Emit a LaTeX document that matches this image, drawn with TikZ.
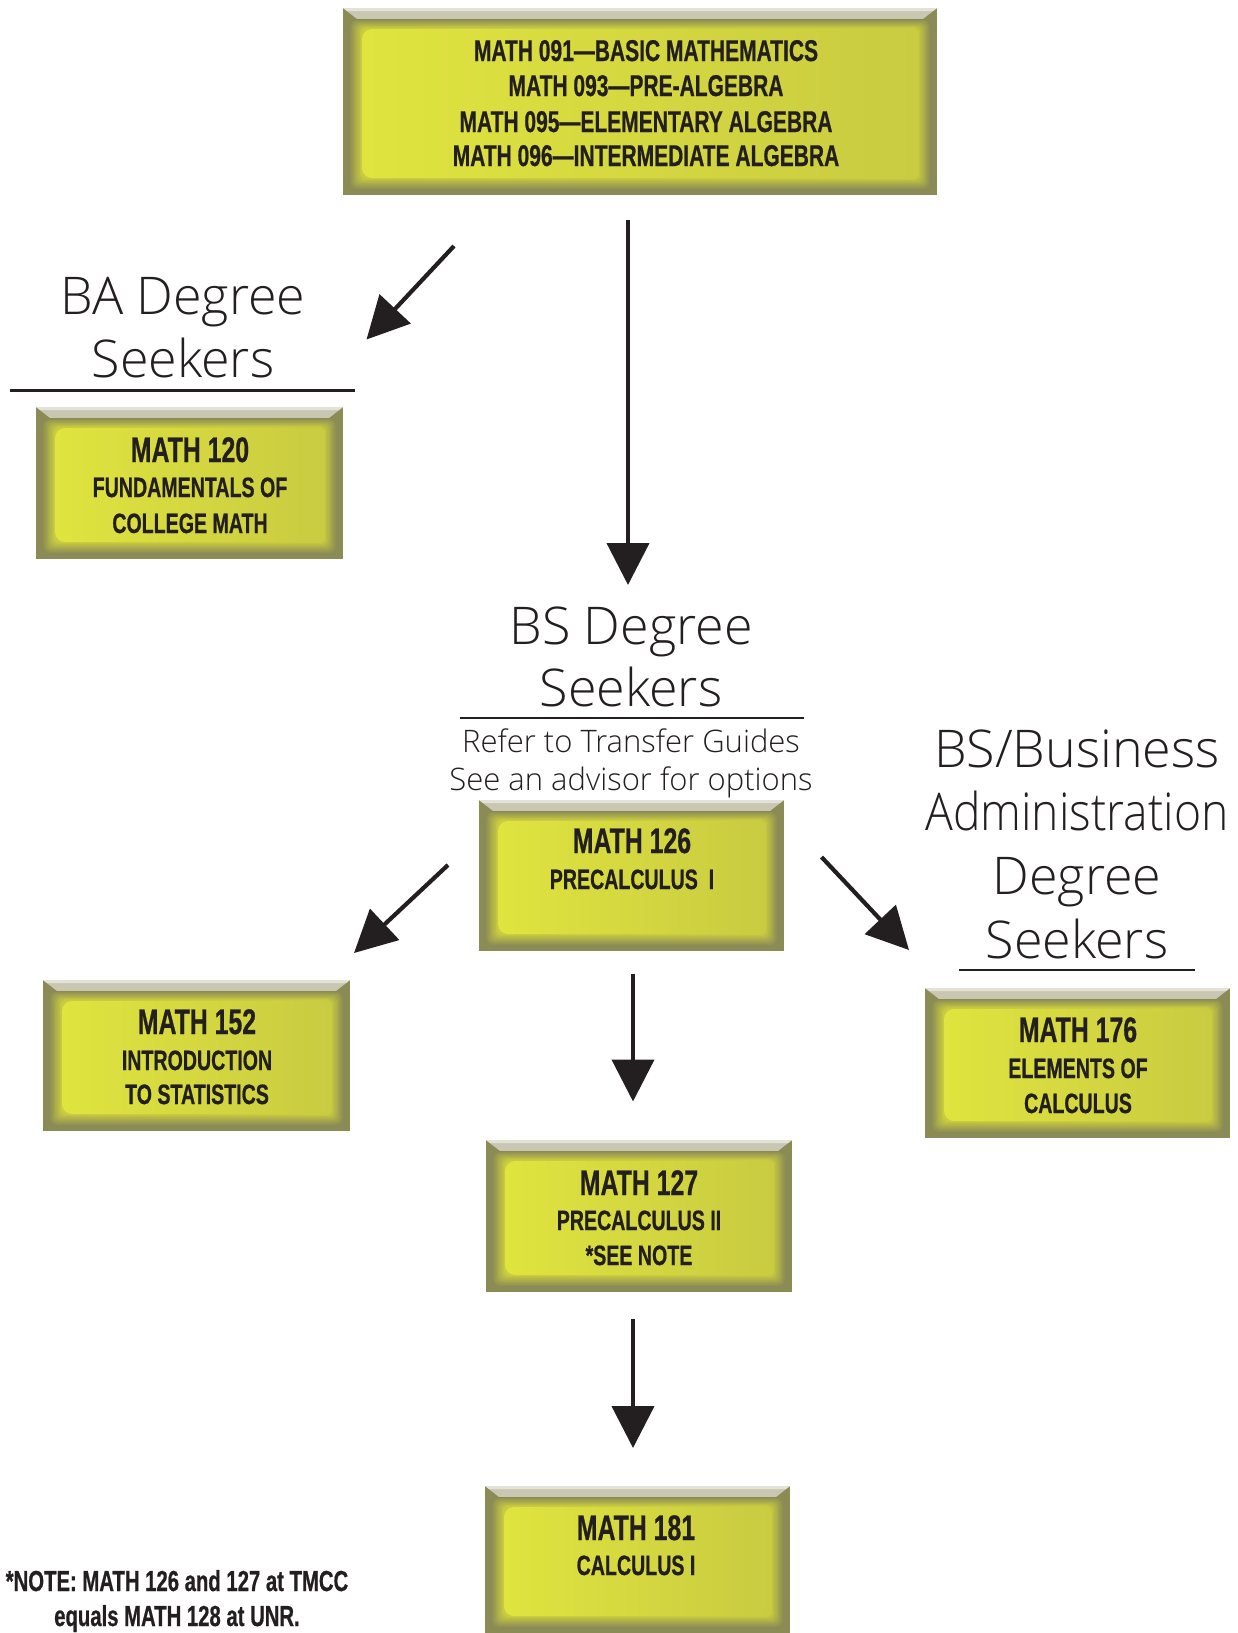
\documentclass[tikz,border=0pt]{standalone}
\usepackage{fontspec}
\usetikzlibrary{arrows.meta}
\IfFontExistsTF{Open Sans Light}{%
  \newfontfamily\lightfont{Open Sans Light}%
  \newfontfamily\lightnarrow{Open Sans Light}[FakeStretch=0.89]}{%
  \newfontfamily\lightfont{Open Sans}%
  \newfontfamily\lightnarrow{Open Sans}[FakeStretch=0.89]}
\newfontfamily\condfont{Liberation Sans}[FakeStretch=0.70, FakeBold=0.6]
\definecolor{olv}{HTML}{8A8B55}
\definecolor{bev}{HTML}{C9C6B2}
\definecolor{yhi}{HTML}{E0E43E}
\definecolor{ylo}{HTML}{C9CB41}
\definecolor{ink}{HTML}{231F20}
\tikzset{
  mbox/.style={draw=none, inner sep=0pt, path picture={
    \fill[olv] (path picture bounding box.south west) rectangle (path picture bounding box.north east);
    \fill[bev] (path picture bounding box.north west) -- (path picture bounding box.north east)
      -- ([xshift=-14pt,yshift=-11pt]path picture bounding box.north east)
      -- ([xshift=14pt,yshift=-11pt]path picture bounding box.north west) -- cycle;
    \fill[bev!50!white] (path picture bounding box.north west) -- (path picture bounding box.north east)
      -- ([xshift=-4pt,yshift=-3pt]path picture bounding box.north east)
      -- ([xshift=4pt,yshift=-3pt]path picture bounding box.north west) -- cycle;
    \foreach \i in {0,...,10}{
      \pgfmathsetmacro\sx{6+1.2*\i}
      \pgfmathsetmacro\sb{5+1.1*\i}
      \pgfmathsetmacro\st{11+0.9*\i}
      \pgfmathtruncatemacro\pc{10*\i}
      \fill[ylo!\pc!olv, rounded corners=6pt] ([xshift=\sx pt,yshift=\sb pt]path picture bounding box.south west)
        rectangle ([xshift=-\sx pt,yshift=-\st pt]path picture bounding box.north east);
    }
    \shade[left color=yhi, right color=ylo, rounded corners=10pt] ([xshift=19pt,yshift=17pt]path picture bounding box.south west)
      rectangle ([xshift=-19pt,yshift=-21pt]path picture bounding box.north east);
  }},
  big/.style={anchor=base, inner sep=0pt, text=ink, font=\condfont\bfseries\fontsize{35.5}{35.5}\selectfont},
  sml/.style={anchor=base, inner sep=0pt, text=ink, font=\condfont\bfseries\fontsize{28}{28}\selectfont},
  note/.style={anchor=base, inner sep=0pt, text=ink, font=\condfont\bfseries\fontsize{29}{29}\selectfont},
  top/.style={anchor=base, inner sep=0pt, text=ink, font=\condfont\bfseries\fontsize{30}{30}\selectfont},
  lbig/.style={anchor=base, inner sep=0pt, text=ink, font=\lightfont\fontsize{52}{52}\selectfont},
  lsml/.style={anchor=base, inner sep=0pt, text=ink, font=\lightfont\fontsize{31}{31}\selectfont},
  arr/.style={line width=4.2pt, draw=ink, -{Triangle[length=42pt,width=42pt]}},
  uline/.style={line width=2.6pt, draw=ink},
}
\begin{document}
\begin{tikzpicture}[x=1pt,y=-1pt]
\useasboundingbox (0,0) rectangle (1237,1633);

% boxes
\node[mbox, minimum width=594pt, minimum height=187pt] (b09) at (640,101.5) {};
\node[mbox, minimum width=307pt, minimum height=152pt] (b120) at (189.5,483) {};
\node[mbox, minimum width=305pt, minimum height=151pt] (b126) at (631.5,875.5) {};
\node[mbox, minimum width=307pt, minimum height=151pt] (b152) at (196.5,1055.5) {};
\node[mbox, minimum width=305pt, minimum height=150pt] (b176) at (1077.5,1063) {};
\node[mbox, minimum width=306pt, minimum height=152pt] (b127) at (639,1216) {};
\node[mbox, minimum width=305pt, minimum height=147pt] (b181) at (637.5,1559.5) {};

% top box text
\node[top] (t1) at (646,61) {MATH 091—BASIC MATHEMATICS};
\node[top] (t2) at (646,96) {MATH 093—PRE-ALGEBRA};
\node[top] (t3) at (646,132) {MATH 095—ELEMENTARY ALGEBRA};
\node[top] (t4) at (646,166) {MATH 096—INTERMEDIATE ALGEBRA};

% MATH 120
\node[big] (m120a) at (190,462) {MATH 120};
\node[sml] (m120b) at (190,497) {FUNDAMENTALS OF};
\node[sml] (m120c) at (190,533) {COLLEGE MATH};

% MATH 126
\node[big] (m126a) at (632,853) {MATH 126};
\node[sml] (m126b) at (632,889) {PRECALCULUS\ \ I};

% MATH 152
\node[big] (m152a) at (197,1034) {MATH 152};
\node[sml] (m152b) at (197,1070) {INTRODUCTION};
\node[sml] (m152c) at (197,1104) {TO STATISTICS};

% MATH 176
\node[big] (m176a) at (1078,1042) {MATH 176};
\node[sml] (m176b) at (1078,1078) {ELEMENTS OF};
\node[sml] (m176c) at (1078,1113) {CALCULUS};

% MATH 127
\node[big] (m127a) at (639,1195) {MATH 127};
\node[sml] (m127b) at (639,1230) {PRECALCULUS II};
\node[sml] (m127c) at (639,1265) {*SEE NOTE};

% MATH 181
\node[big] (m181a) at (636,1540) {MATH 181};
\node[sml] (m181b) at (636,1575) {CALCULUS I};

% note
\node[note] (n1) at (177,1591) {*NOTE: MATH 126 and 127 at TMCC};
\node[note] (n2) at (177,1626) {equals MATH 128 at UNR.};

% headings
\node[lbig] (ba1) at (183,314) {BA Degree};
\node[lbig] (ba2) at (183,377) {Seekers};
\draw[uline] (10,390.5) -- (355,390.5);

\node[lbig] (bs1) at (631,644) {BS Degree};
\node[lbig] (bs2) at (631,706) {Seekers};
\draw[uline] (460,718) -- (804,718);
\node[lsml] (rf1) at (631,752) {Refer to Transfer Guides};
\node[lsml] (rf2) at (631,790) {See an advisor for options};

\node[lbig] (bb1) at (1077,767) {BS/Business};
\node[lbig, font=\lightnarrow\fontsize{52}{52}\selectfont] (bb2) at (1077,830) {Administration};
\node[lbig] (bb3) at (1077,894) {Degree};
\node[lbig] (bb4) at (1077,958) {Seekers};
\draw[uline] (959,970) -- (1195,970);

% arrows
\coordinate (a1s) at (628,220);  \coordinate (a1e) at (628,585);
\coordinate (a2s) at (454,246);  \coordinate (a2e) at (366.5,339.5);
\coordinate (a3s) at (448,865);  \coordinate (a3e) at (354,953);
\coordinate (a4s) at (821.5,857); \coordinate (a4e) at (909,950);
\coordinate (a5s) at (633,973.5); \coordinate (a5e) at (633,1101.5);
\coordinate (a6s) at (633,1319); \coordinate (a6e) at (633,1448);
\draw[arr] (a1s) -- (a1e);
\draw[arr] (a2s) -- (a2e);
\draw[arr] (a3s) -- (a3e);
\draw[arr] (a4s) -- (a4e);
\draw[arr] (a5s) -- (a5e);
\draw[arr] (a6s) -- (a6e);
\end{tikzpicture}
\end{document}
